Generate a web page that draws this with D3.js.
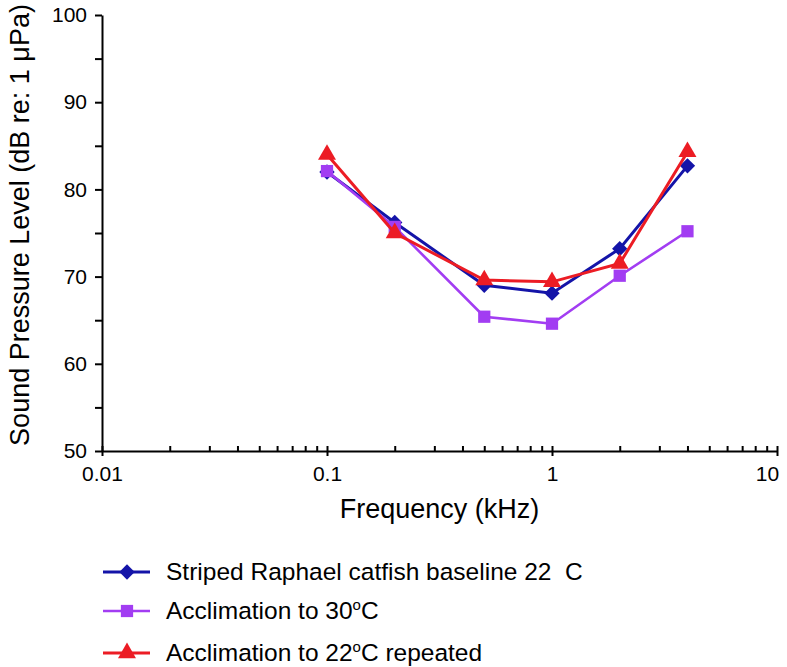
<!DOCTYPE html>
<html>
<head>
<meta charset="utf-8">
<script src="https://cdn.jsdelivr.net/npm/d3@7"></script>
<style>
  body { margin: 0; background: #fff; }
  text { font-family: "Liberation Sans", Arial, Helvetica, sans-serif; }
</style>
</head>
<body>
<script>
const freqs = [0.1, 0.2, 0.5, 1, 2, 4]
const baseline22 = [82.0, 76.2, 69.0, 68.1, 73.2, 82.7]
const accl30 = [82.1, 75.7, 65.4, 64.6, 70.1, 75.2]
const accl22rep = [84.0, 75.0, 69.6, 69.4, 71.5, 84.3]

const xMajor = [0.01, 0.1, 1, 10]
const yMajor = [50, 60, 70, 80, 90, 100]
const yMinor = [55, 65, 75, 85, 95]

const width = 787
const height = 667
const margin = {top: 15, left: 102, right: 10, bottom: 216}

const svg = d3.select('body').append('svg')
    .attr('width', width)
    .attr('height', height)

const x = d3.scaleLog().domain([0.01, 10]).range([margin.left, width - margin.right])
const y = d3.scaleLinear().domain([50, 100]).range([height - margin.bottom, margin.top])

const xMinor = []
for (let e = -2; e < 1; e++) {
    for (let k = 2; k < 10; k++) xMinor.push(k * Math.pow(10, e))
}

// y axis
const yAxis = svg.append('g')
    .attr('transform', `translate(${margin.left},0)`)
    .call(d3.axisLeft(y).tickValues(yMajor).tickSize(7).tickPadding(6).tickSizeOuter(0))
svg.append('g')
    .attr('transform', `translate(${margin.left},0)`)
    .call(d3.axisLeft(y).tickValues(yMinor).tickSize(7).tickFormat(''))
    .call(g => g.select('.domain').remove())

// x axis
const x0 = y(50)
const xAxis = svg.append('g')
    .attr('transform', `translate(0,${x0})`)
    .call(d3.axisBottom(x).tickValues(xMajor).tickSize(5).tickPadding(10).tickSizeOuter(0).tickFormat(d => String(d)))
xAxis.selectAll('.tick line').attr('y1', -5)
svg.append('g')
    .attr('transform', `translate(0,${x0})`)
    .call(d3.axisTop(x).tickValues(xMinor).tickSize(5).tickFormat(''))
    .call(g => g.select('.domain').remove())

svg.selectAll('.domain, .tick line').attr('stroke', '#000').attr('stroke-width', 2)
svg.selectAll('.tick text').attr('font-size', 21).attr('fill', '#000')
yAxis.selectAll('.tick text').attr('dx', -2)
// keep the last label inside the page
xAxis.selectAll('.tick text').filter(d => d === 10).attr('dx', -10)

// axis titles
svg.append('text')
    .attr('x', (x.range()[0] + x.range()[1]) / 2)
    .attr('y', 518)
    .attr('text-anchor', 'middle')
    .attr('font-size', 27)
    .text('Frequency (kHz)')

svg.append('text')
    .attr('transform', `translate(29,${(y.range()[0] + y.range()[1]) / 2 - 8}) rotate(-90)`)
    .attr('text-anchor', 'middle')
    .attr('font-size', 27)
    .text('Sound Pressure Level (dB re: 1 μPa)')

const series = [
    {values: baseline22, color: '#1414a8', shape: d3.symbolDiamond2, size: 150, lw: 3},
    {values: accl30, color: '#a23df2', shape: d3.symbolSquare, size: 150, lw: 2.6},
    {values: accl22rep, color: '#ec1c24', shape: d3.symbolTriangle, size: 140, lw: 3}
]

const line = d3.line()
    .x(d => x(d[0]))
    .y(d => y(d[1]))

series.forEach(s => {
    const pts = freqs.map((f, i) => [f, s.values[i]])
    svg.append('path')
        .datum(pts)
        .attr('d', line)
        .attr('fill', 'none')
        .attr('stroke', s.color)
        .attr('stroke-width', s.lw)
    svg.append('g').selectAll('path')
        .data(pts)
        .enter()
        .append('path')
        .attr('transform', d => `translate(${x(d[0])},${y(d[1])})`)
        .attr('d', d3.symbol().type(s.shape).size(s.size))
        .attr('fill', s.color)
})

// legend
const legendRows = [
    {y: 572, s: series[0], parts: [['Striped Raphael catfish baseline 22\u00a0 C', false]]},
    {y: 611, s: series[1], parts: [['Acclimation to 30', false], ['o', true], ['C', false]]},
    {y: 653, s: series[2], parts: [['Acclimation to 22', false], ['o', true], ['C repeated', false]]}
]

const legend = svg.append('g')
legendRows.forEach(r => {
    const g = legend.append('g').attr('transform', `translate(0,${r.y})`)
    g.append('line')
        .attr('x1', 103).attr('x2', 150)
        .attr('stroke', r.s.color).attr('stroke-width', r.s.lw)
    g.append('path')
        .attr('transform', 'translate(127,0)')
        .attr('d', d3.symbol().type(r.s.shape).size(r.s.size))
        .attr('fill', r.s.color)
    const t = g.append('text')
        .attr('x', 166)
        .attr('y', 8)
        .attr('font-size', 24.5)
    r.parts.forEach(p => {
        const ts = t.append('tspan').text(p[0])
        if (p[1]) ts.attr('font-size', 15).attr('dy', -9)
        else if (t.selectAll('tspan').size() > 1) ts.attr('dy', 9)
    })
})
</script>
</body>
</html>
